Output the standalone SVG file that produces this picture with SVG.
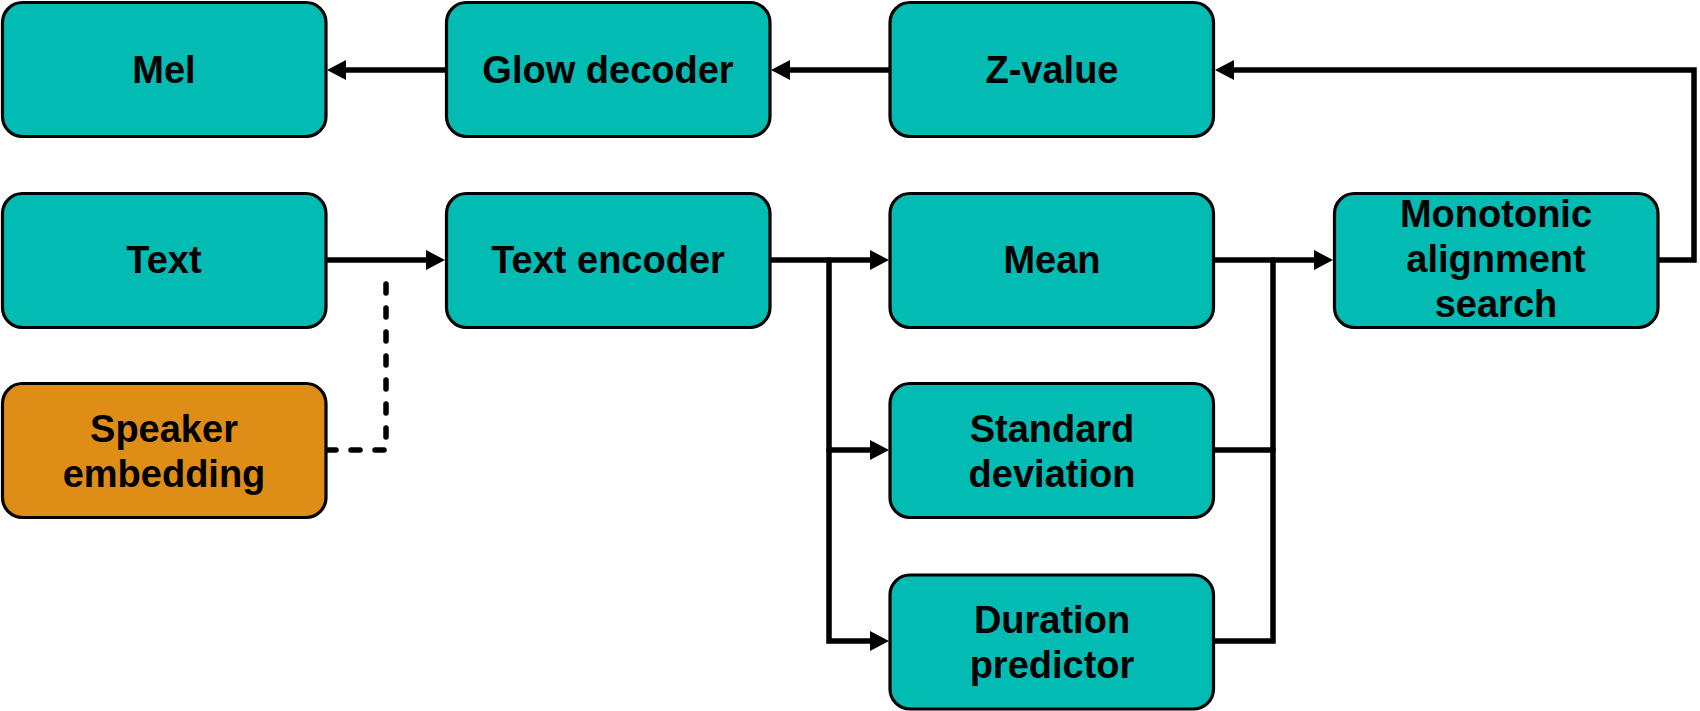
<svg xmlns="http://www.w3.org/2000/svg" width="1700" height="711" viewBox="0 0 1700 711">
<style>
.box{stroke:#000;stroke-width:3.2}
.teal{fill:#02BBB2}
.orange{fill:#DE8D16}
.lbl{font-family:"Liberation Sans",Arial,sans-serif;font-weight:bold;font-size:38px;fill:#000;text-anchor:middle}
.con{fill:none;stroke:#000;stroke-width:5.5;stroke-linecap:round;stroke-linejoin:miter}
.dash{stroke-dasharray:9 15}
</style>
<defs>
<marker id="ah" markerUnits="userSpaceOnUse" markerWidth="22" markerHeight="22" refX="9" refY="10" orient="auto">
<path d="M0,0 L19,10 L0,20 z" fill="#000"/>
</marker>
</defs>
<rect width="1700" height="711" fill="#fff"/>
<g id="connectors">
<path class="con" d="M445,70 H337" marker-end="url(#ah)"/>
<path class="con" d="M889,70 H781" marker-end="url(#ah)"/>
<path class="con" d="M1660,260 H1694 V70 H1225" marker-end="url(#ah)"/>
<path class="con" d="M327,260 H435" marker-end="url(#ah)"/>
<path class="con dash" d="M327,450 H386 V270"/>
<path class="con" d="M771,260 H879" marker-end="url(#ah)"/>
<path class="con" d="M829,260 V641 H879" marker-end="url(#ah)"/>
<path class="con" d="M829,450 H879" marker-end="url(#ah)"/>
<path class="con" d="M1215,260 H1323" marker-end="url(#ah)"/>
<path class="con" d="M1215,450 H1273"/>
<path class="con" d="M1215,641 H1273 V260"/>
</g>
<g id="mel"><rect class="box teal" x="2.5" y="2.5" width="323.5" height="134" rx="20"/><text class="lbl" x="164" y="83">Mel</text></g>
<g id="glow-decoder"><rect class="box teal" x="446.5" y="2.5" width="323.5" height="134" rx="20"/><text class="lbl" x="608" y="83">Glow decoder</text></g>
<g id="z-value"><rect class="box teal" x="890" y="2.5" width="323.5" height="134" rx="20"/><text class="lbl" x="1052" y="83">Z-value</text></g>
<g id="text"><rect class="box teal" x="2.5" y="193.5" width="323.5" height="134" rx="20"/><text class="lbl" x="164" y="273">Text</text></g>
<g id="text-encoder"><rect class="box teal" x="446.5" y="193.5" width="323.5" height="134" rx="20"/><text class="lbl" x="608" y="273">Text encoder</text></g>
<g id="mean"><rect class="box teal" x="890" y="193.5" width="323.5" height="134" rx="20"/><text class="lbl" x="1052" y="273">Mean</text></g>
<g id="mas"><rect class="box teal" x="1334.5" y="193.5" width="323.5" height="134" rx="20"/><text class="lbl" x="1496" y="227">Monotonic</text><text class="lbl" x="1496" y="272">alignment</text><text class="lbl" x="1496" y="317">search</text></g>
<g id="speaker-embedding"><rect class="box orange" x="2.5" y="383.5" width="323.5" height="134" rx="20"/><text class="lbl" x="164" y="442">Speaker</text><text class="lbl" x="164" y="487">embedding</text></g>
<g id="standard-deviation"><rect class="box teal" x="890" y="383.5" width="323.5" height="134" rx="20"/><text class="lbl" x="1052" y="442">Standard</text><text class="lbl" x="1052" y="487">deviation</text></g>
<g id="duration-predictor"><rect class="box teal" x="890" y="575" width="323.5" height="134" rx="20"/><text class="lbl" x="1052" y="633">Duration</text><text class="lbl" x="1052" y="678">predictor</text></g>
</svg>
